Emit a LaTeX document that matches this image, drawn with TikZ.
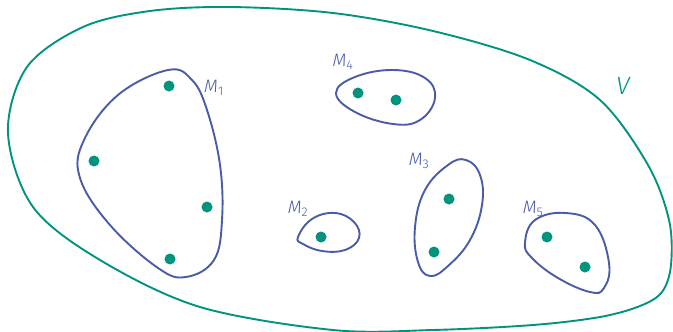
\documentclass[tikz,border=0pt]{standalone}
\usepackage{fontspec}
\newfontfamily\lblfont{Fira Sans Light}[ItalicFont={Fira Sans Light Italic}]
\definecolor{vgreen}{HTML}{00947E}
\definecolor{mblue}{HTML}{4A5BA8}
\begin{document}
\begin{tikzpicture}[x=1pt,y=-1pt,
  setline/.style={draw=mblue,line width=1.9pt},
  outerline/.style={draw=vgreen,line width=1.9pt},
  pt/.style={circle,fill=vgreen,inner sep=0pt,minimum size=11pt},
  mlbl/.style={text=mblue,font=\lblfont\itshape\fontsize{18}{18}\selectfont,inner sep=0pt},
  vlbl/.style={text=vgreen,font=\lblfont\itshape\fontsize{25}{25}\selectfont,inner sep=0pt}]
\useasboundingbox (0,0) rectangle (673,332);
% outer set V
\draw[outerline] plot[smooth cycle,tension=0.55] coordinates {
 (230,7) (333,13) (433,31) (530,60) (600,100) (648,165) (669,220) (671,265) (662,292) (640,306) (600,317)
 (533,325) (433,330) (333,330) (200,307) (100,260) (33,207) (8,133) (27,67) (83,27) (150,11)};
\node[vlbl] (V) at (623,86) {V};
% M1
\draw[setline] plot[smooth cycle,tension=0.65] coordinates {
 (168,70) (192,80) (207,110) (220,165) (222,220) (214,260) (186,277) (158,268) (110,225) (80,178) (84,140) (118,95)};
\node[pt] (a1) at (169,86) {};
\node[pt] (a2) at (94,161) {};
\node[pt] (a3) at (207,207) {};
\node[pt] (a4) at (170,259) {};
\node[mlbl] (L1) at (214,88) {M\textsubscript{\upshape 1}};
% M4
\draw[setline] plot[smooth cycle,tension=0.7] coordinates {
 (336,93) (355,77) (393,70) (425,78) (435,98) (420,120) (393,124) (355,112)};
\node[pt] (b1) at (358,93) {};
\node[pt] (b2) at (396,100) {};
\node[mlbl] (L4) at (343,62) {M\textsubscript{\upshape 4}};
% M3
\draw[setline] plot[smooth cycle,tension=0.7] coordinates {
 (466,160) (480,175) (482,205) (470,240) (448,266) (430,276) (418,262) (415,227) (425,190) (448,165)};
\node[pt] (c1) at (449,199) {};
\node[pt] (c2) at (434,252) {};
\node[mlbl] (L3) at (419,161) {M\textsubscript{\upshape 3}};
% M2
\draw[setline] plot[smooth cycle,tension=0.7] coordinates {
 (298,237) (312,219) (335,213) (354,222) (359,238) (345,250) (322,251) (303,244)};
\node[pt] (d1) at (321,237) {};
\node[mlbl] (L2) at (298,209) {M\textsubscript{\upshape 2}};
% M5
\draw[setline] plot[smooth cycle,tension=0.7] coordinates {
 (525,243) (535,220) (566,213) (595,225) (609,263) (604,288) (590,292) (558,278) (532,258)};
\node[pt] (e1) at (547,237) {};
\node[pt] (e2) at (585,267) {};
\node[mlbl] (L5) at (533,209) {M\textsubscript{\upshape 5}};
\end{tikzpicture}
\end{document}
